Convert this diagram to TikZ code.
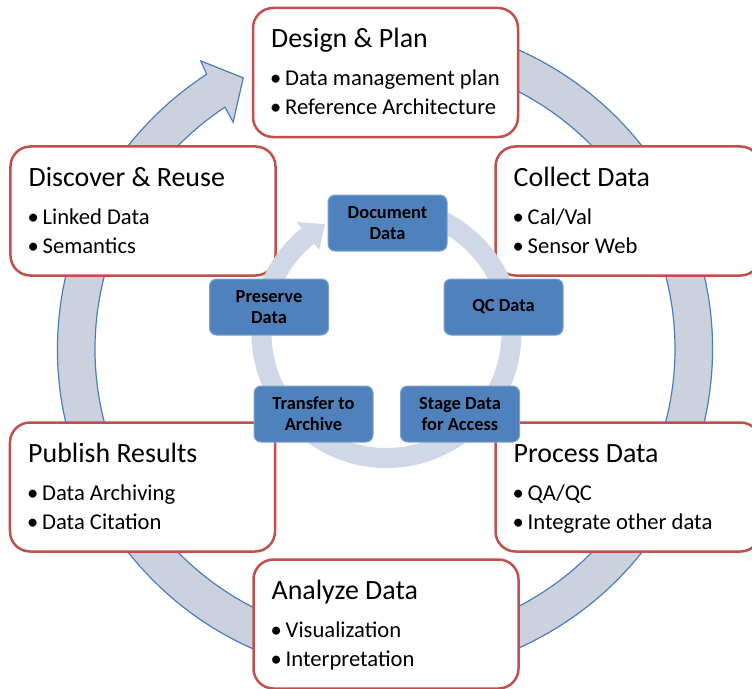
\documentclass[tikz,border=0pt]{standalone}
\usepackage{fontspec}
\setmainfont{Carlito}
\definecolor{ringfill}{RGB}{204,209,222}
\definecolor{ringline}{RGB}{74,126,187}
\definecolor{boxred}{RGB}{192,80,77}
\definecolor{innerring}{RGB}{208,216,232}
\definecolor{innerblue}{RGB}{79,129,189}
\definecolor{inneredge}{RGB}{125,162,208}
\tikzset{
  outerbox/.style={rectangle, draw=boxred, line width=2.5bp, fill=white,
    rounded corners=20bp, minimum width=265bp, minimum height=129bp,
    inner sep=0pt, outer sep=0pt},
  titletext/.style={inner sep=0pt, anchor=base west, font=\fontsize{28}{32}\selectfont},
  bullettext/.style={inner sep=0pt, anchor=base west, font=\fontsize{22.7}{26}\selectfont},
  innerbox/.style={rectangle, fill=innerblue, draw=inneredge, line width=1bp,
    rounded corners=7bp, minimum width=119bp, minimum height=56bp,
    inner sep=0pt, outer sep=0pt, align=center,
    font=\fontsize{18.5}{21}\selectfont\bfseries, text=black},
  outerring/.style={fill=ringfill, draw=ringline, line width=1.2bp, line join=miter},
  innerringstyle/.style={fill=innerring, draw=none}
}
\newcommand\outerstage[6]{%
  \node[outerbox] (#1) at (#2,#3) {};
  \node[titletext] (#1-t) at ([xshift=18bp,yshift=-40bp]#1.north west) {#4};
  \node[bullettext] (#1-d1) at ([xshift=17bp,yshift=-78bp]#1.north west) {•};
  \node[bullettext] (#1-b1) at ([xshift=32bp,yshift=-78bp]#1.north west) {#5};
  \node[bullettext] (#1-d2) at ([xshift=17bp,yshift=-106.5bp]#1.north west) {•};
  \node[bullettext] (#1-b2) at ([xshift=32bp,yshift=-106.5bp]#1.north west) {#6};
}
\begin{document}
\begin{tikzpicture}[x=1bp,y=1bp]
\useasboundingbox (0,0) rectangle (752,-689);
\clip (0,0) rectangle (752,-689);
% outer circular arrow
\coordinate (C) at (385,-349);
\filldraw[outerring]
  ([shift={(C)}]80:327.5) arc[start angle=80,end angle=-237,radius=327.5]
  -- ([shift={(C)}]-237.4:342)
  -- ([shift={(C)}]-242.4:306)
  -- ([shift={(C)}]-236.2:273)
  -- ([shift={(C)}]-236.5:290)
  arc[start angle=-236.5,end angle=80,radius=290] -- cycle;
% outer stages
\outerstage{design}{385.5}{-72.5}{Design \& Plan}{Data management plan}{Reference Architecture}
\outerstage{collect}{628}{-211}{Collect Data}{Cal/Val}{Sensor Web}
\outerstage{process}{628}{-487}{Process Data}{QA/QC}{Integrate other data}
\outerstage{analyze}{386}{-624}{Analyze Data}{Visualization}{Interpretation}
\outerstage{publish}{142.5}{-487}{Publish Results}{Data Archiving}{Data Citation}
\outerstage{discover}{143}{-211}{Discover \& Reuse}{Linked Data}{Semantics}
% inner circular arrow
\coordinate (c) at (386.5,-333);
\fill[innerringstyle]
  ([shift={(c)}]75:135) arc[start angle=75,end angle=-231,radius=135]
  -- ([shift={(c)}]-231:143)
  -- ([shift={(c)}]-240.5:125)
  -- ([shift={(c)}]-231:107)
  -- ([shift={(c)}]-231:115)
  arc[start angle=-231,end angle=75,radius=115] -- cycle;
% inner stages
\node[innerbox] (document) at (387.5,-223) {Document\\Data};
\node[innerbox] (qc) at (503.5,-307) {QC Data};
\node[innerbox] (stage) at (460,-414) {Stage Data\\for Access};
\node[innerbox] (transfer) at (313.5,-414) {Transfer to\\Archive};
\node[innerbox] (preserve) at (269,-307) {Preserve\\Data};
\end{tikzpicture}
\end{document}
